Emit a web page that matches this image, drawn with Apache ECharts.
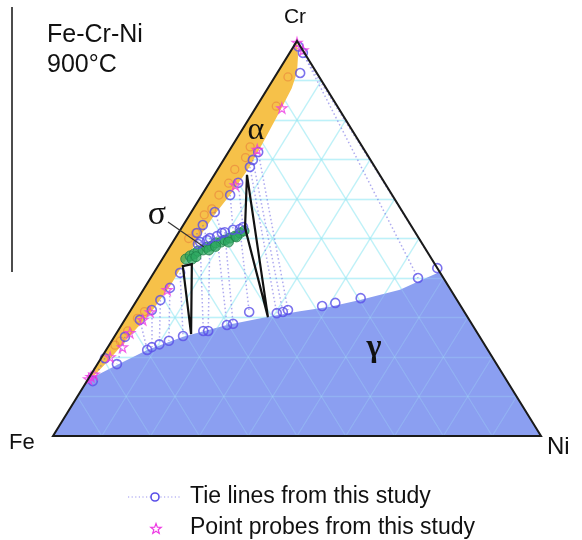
<!DOCTYPE html>
<html>
<head>
<meta charset="utf-8">
<script src="https://cdn.jsdelivr.net/npm/echarts@6/dist/echarts.min.js"></script>
<style>
  html, body { margin: 0; padding: 0; background: #fff; }
  #chart { width: 582px; height: 540px; }
</style>
</head>
<body>
<div id="chart"></div>
<script>
// Fe-Cr-Ni isothermal section at 900 °C, compositions in at.% (Cr, Ni); Fe is the balance.

// Ternary grid spacing (at.%)
const gridSteps = [10, 20, 30, 40, 50, 60, 70, 80, 90];

// alpha (bcc) single-phase boundary, Cr-rich apex down to the Fe-Cr binary edge
const alphaCr = [100, 96, 92, 88, 82, 74, 68, 62, 56, 50, 44, 38, 31, 25, 19, 15, 14];
const alphaNi = [0, 2.2, 4.0, 4.9, 5.4, 5.9, 6.2, 5.9, 5.1, 4.8, 4.9, 5.0, 4.4, 3.0, 1.8, 0.7, 0];

// gamma (fcc) single-phase boundary, Fe-Cr edge to Cr-Ni edge
const gammaCr = [14.2, 18.0, 21.8, 25.1, 28.1, 30.1, 31.6, 32.7, 34.4, 37.0, 39.0, 41.5];
const gammaNi = [0, 4.1, 8.4, 14.1, 21.6, 28.8, 34.8, 40.4, 45.7, 52.6, 55.1, 58.5];

// Measured tie lines: first end (alpha or sigma) -> second end (gamma or sigma)
const tieFromCr = [97.0, 98.6, 71.9, 69.9, 68.1, 52.4, 51.6, 50.6, 50.1, 49.1, 64.1, 61.0, 56.7, 53.4, 51.4, 41.3, 37.5, 34.4, 31.9, 29.4, 25.1, 19.7];
const tieFromNi = [2.7, 1.0, 6.1, 6.0, 6.3, 12.1, 9.4, 8.3, 7.1, 5.6, 5.9, 5.8, 4.8, 4.0, 3.8, 5.4, 5.2, 4.8, 4.3, 3.1, 2.2, 0.8];
const tieToCr = [40.0, 42.5, 31.9, 31.4, 31.1, 31.4, 28.4, 28.1, 26.6, 26.6, 52.9, 52.2, 51.4, 49.6, 48.6, 25.3, 24.1, 23.2, 22.5, 21.8, 18.2, 13.9];
const tieToNi = [54.8, 57.5, 32.2, 31.4, 30.3, 24.5, 22.7, 21.6, 18.5, 17.5, 12.5, 10.8, 8.9, 6.8, 5.4, 14.0, 11.7, 10.2, 9.0, 8.4, 4.0, 1.2];

// Single-phase alloys (one alpha, three gamma)
const singleCr = [91.9, 32.9, 33.7, 34.9];
const singleNi = [4.7, 38.7, 41.0, 45.6];

// Three-phase triangles alpha + sigma + gamma (vertex order: alpha, sigma, gamma)
const tri1Cr = [43.0, 43.5, 25.8];
const tri1Ni = [5.1, 6.7, 15.4];
const tri2Cr = [66.1, 52.7, 30.1];
const tri2Ni = [6.7, 13.0, 29.0];

// sigma phase compositions
const sigmaCr = [44.8, 45.6, 46.1, 46.8, 47.1, 47.8, 48.1, 48.9, 49.1, 49.6, 50.1, 50.6, 51.4, 51.9, 44.8, 47.1, 49.1, 45.4, 48.0, 50.4];
const sigmaNi = [4.8, 5.3, 5.9, 6.3, 7.2, 7.6, 8.5, 8.9, 9.9, 10.4, 11.2, 12.0, 12.6, 13.2, 6.1, 8.4, 11.4, 6.6, 9.3, 12.4];

// Point probes (alpha phase)
const probeCr = [99.6, 97.7, 83.0, 72.5, 63.5, 37.0, 31.4, 29.4, 26.1, 22.5, 20.0, 15.6, 15.0, 14.4];
const probeNi = [0.2, 2.4, 5.4, 5.6, 5.6, 4.9, 4.2, 3.7, 2.7, 3.0, 1.7, 0.6, 0.3, 0.1];

// Earlier alpha data inside the alpha field
const refCr = [90.9, 83.5, 73.2, 70.5, 67.5, 64.0, 61.0, 57.5, 56.0, 51.4, 50.0, 31.5, 29.8, 26.6, 24.0, 23.0];
const refNi = [2.7, 4.0, 3.8, 4.2, 3.5, 4.0, 3.5, 3.8, 3.0, 3.5, 2.8, 3.0, 2.4, 2.0, 1.8, 1.2];

// (Cr, Ni) -> cartesian position inside the triangle Fe(0,0) Ni(100,0) Cr(50,100)
function tern(cr, ni) { return [ni + cr / 2, cr]; }
function zipTern(crs, nis) { return crs.map((c, i) => tern(c, nis[i])); }

const gridLines = [];
gridSteps.forEach(v => {
  gridLines.push({ coords: [tern(v, 0), tern(v, 100 - v)] });       // constant Cr
  gridLines.push({ coords: [tern(0, v), tern(100 - v, v)] });       // constant Ni
  gridLines.push({ coords: [tern(0, 100 - v), tern(100 - v, 0)] }); // constant Fe
});

const ties = tieFromCr.map((c, i) => ({
  coords: [tern(c, tieFromNi[i]), tern(tieToCr[i], tieToNi[i])]
}));
const tieEnds = zipTern(tieFromCr, tieFromNi)
  .concat(zipTern(tieToCr, tieToNi))
  .concat(zipTern(singleCr, singleNi));

const alphaPoly = zipTern(alphaCr, alphaNi);
const gammaPoly = zipTern(gammaCr, gammaNi).concat([tern(0, 100), tern(0, 0)]);
const outline = [tern(0, 0), tern(0, 100), tern(100, 0)];

const starPath = 'path://M50,2 L61,37 L98,37 L68,59 L79,95 L50,73 L21,95 L32,59 L2,37 L39,37 Z';

function polygonSeries(points, style, z) {
  return {
    type: 'custom', coordinateSystem: 'cartesian2d', z: z, silent: true, clip: false,
    data: [[0, 0]],
    renderItem: (params, api) => ({
      type: 'polygon',
      shape: { points: points.map(p => api.coord(p)) },
      style: style
    })
  };
}

const chart = echarts.init(document.getElementById('chart'));

// Legend star outline
function starPoints(cx, cy, r) {
  const pts = [];
  for (let k = 0; k < 10; k++) {
    const rr = k % 2 === 0 ? r : r * 0.42;
    const a = -Math.PI / 2 + k * Math.PI / 5;
    pts.push([cx + rr * Math.cos(a), cy + rr * Math.sin(a)]);
  }
  return pts;
}

const sans = 'Liberation Sans, Arial, sans-serif';
const serif = 'Liberation Serif, DejaVu Serif, serif';

const annotations = [
  { type: 'line', shape: { x1: 12, y1: 7, x2: 12, y2: 272 }, style: { stroke: '#111', lineWidth: 1.5 } },
  { type: 'text', x: 47, y: 35, style: { text: 'Fe-Cr-Ni', font: '25px ' + sans, fill: '#111', verticalAlign: 'middle' } },
  { type: 'text', x: 47, y: 65, style: { text: '900°C', font: '25px ' + sans, fill: '#111', verticalAlign: 'middle' } },
  { type: 'text', x: 295, y: 17, style: { text: 'Cr', font: '21px ' + sans, fill: '#111', align: 'center', verticalAlign: 'middle' } },
  { type: 'text', x: 9, y: 443, style: { text: 'Fe', font: '22px ' + sans, fill: '#111', verticalAlign: 'middle' } },
  { type: 'text', x: 547, y: 447, style: { text: 'Ni', font: '24px ' + sans, fill: '#111', verticalAlign: 'middle' } },
  { type: 'text', x: 256, y: 131, style: { text: 'α', font: '32px ' + serif, fill: '#111', align: 'center', verticalAlign: 'middle' } },
  { type: 'text', x: 157, y: 215, style: { text: 'σ', font: '34px ' + serif, fill: '#111', align: 'center', verticalAlign: 'middle' } },
  { type: 'text', x: 374, y: 348, style: { text: 'γ', font: 'bold 32px ' + serif, fill: '#111', align: 'center', verticalAlign: 'middle' } },
  { type: 'line', shape: { x1: 168, y1: 222, x2: 204, y2: 247 }, style: { stroke: '#333', lineWidth: 1.2 } },
  // legend
  { type: 'line', shape: { x1: 128, y1: 497, x2: 182, y2: 497 }, style: { stroke: '#9a94ee', lineWidth: 1.2, lineDash: [1.2, 2.4] } },
  { type: 'circle', shape: { cx: 155, cy: 497, r: 4 }, style: { fill: '#fff', stroke: '#5a4fe8', lineWidth: 1.6 } },
  { type: 'polygon', shape: { points: starPoints(156, 529, 5.5) }, style: { fill: 'none', stroke: '#ee3ae4', lineWidth: 1.2 } },
  { type: 'text', x: 190, y: 497, style: { text: 'Tie lines from this study', font: '23px ' + sans, fill: '#111', verticalAlign: 'middle' } },
  { type: 'text', x: 190, y: 528, style: { text: 'Point probes from this study', font: '23px ' + sans, fill: '#111', verticalAlign: 'middle' } }
].map(g => Object.assign({ z: 100 }, g));

chart.setOption({
  animation: false,
  backgroundColor: '#ffffff',
  grid: { left: 53, right: 41, top: 41, bottom: 104 },
  xAxis: { type: 'value', min: 0, max: 100, show: false },
  yAxis: { type: 'value', min: 0, max: 100, show: false },
  series: [
    { type: 'lines', coordinateSystem: 'cartesian2d', z: 1, silent: true,
      data: gridLines, lineStyle: { color: '#8cecf2', width: 1.4 } },
    polygonSeries(gammaPoly, { fill: '#8b9ff1' }, 2),
    { type: 'lines', coordinateSystem: 'cartesian2d', z: 3, silent: true,
      data: gridLines, lineStyle: { color: '#a8e8fa', width: 1.3, opacity: 0.25 } },
    polygonSeries(alphaPoly, { fill: '#f6c149' }, 4),
    { type: 'scatter', z: 5, silent: true, symbol: 'circle', symbolSize: 8,
      data: zipTern(refCr, refNi),
      itemStyle: { color: 'rgba(0,0,0,0)', borderColor: 'rgba(232,128,60,0.75)', borderWidth: 1.3 } },
    { type: 'lines', coordinateSystem: 'cartesian2d', z: 6, silent: true,
      data: ties, lineStyle: { color: '#5e56e2', width: 1.5, type: [1.5, 2.5] } },
    { type: 'scatter', z: 7, silent: true, symbol: 'circle', symbolSize: 10,
      data: zipTern(sigmaCr, sigmaNi),
      itemStyle: { color: 'rgba(44,168,96,0.9)', borderColor: '#1e8048', borderWidth: 1 } },
    { type: 'scatter', z: 8, silent: true, symbol: 'circle', symbolSize: 9,
      data: tieEnds,
      itemStyle: { color: 'rgba(0,0,0,0)', borderColor: '#5a4fe8', borderWidth: 1.6 } },
    polygonSeries(zipTern(tri1Cr, tri1Ni), { fill: 'none', stroke: '#111', lineWidth: 2.2 }, 9),
    polygonSeries(zipTern(tri2Cr, tri2Ni), { fill: 'none', stroke: '#111', lineWidth: 2.2 }, 9),
    { type: 'scatter', z: 10, silent: true, symbol: starPath, symbolSize: 10,
      data: zipTern(probeCr, probeNi),
      itemStyle: { color: 'rgba(0,0,0,0)', borderColor: '#ee3ae4', borderWidth: 1.2 } },
    polygonSeries(outline, { fill: 'none', stroke: '#1a1a1a', lineWidth: 2 }, 11)
  ],
  graphic: annotations
});
</script>
</body>
</html>
